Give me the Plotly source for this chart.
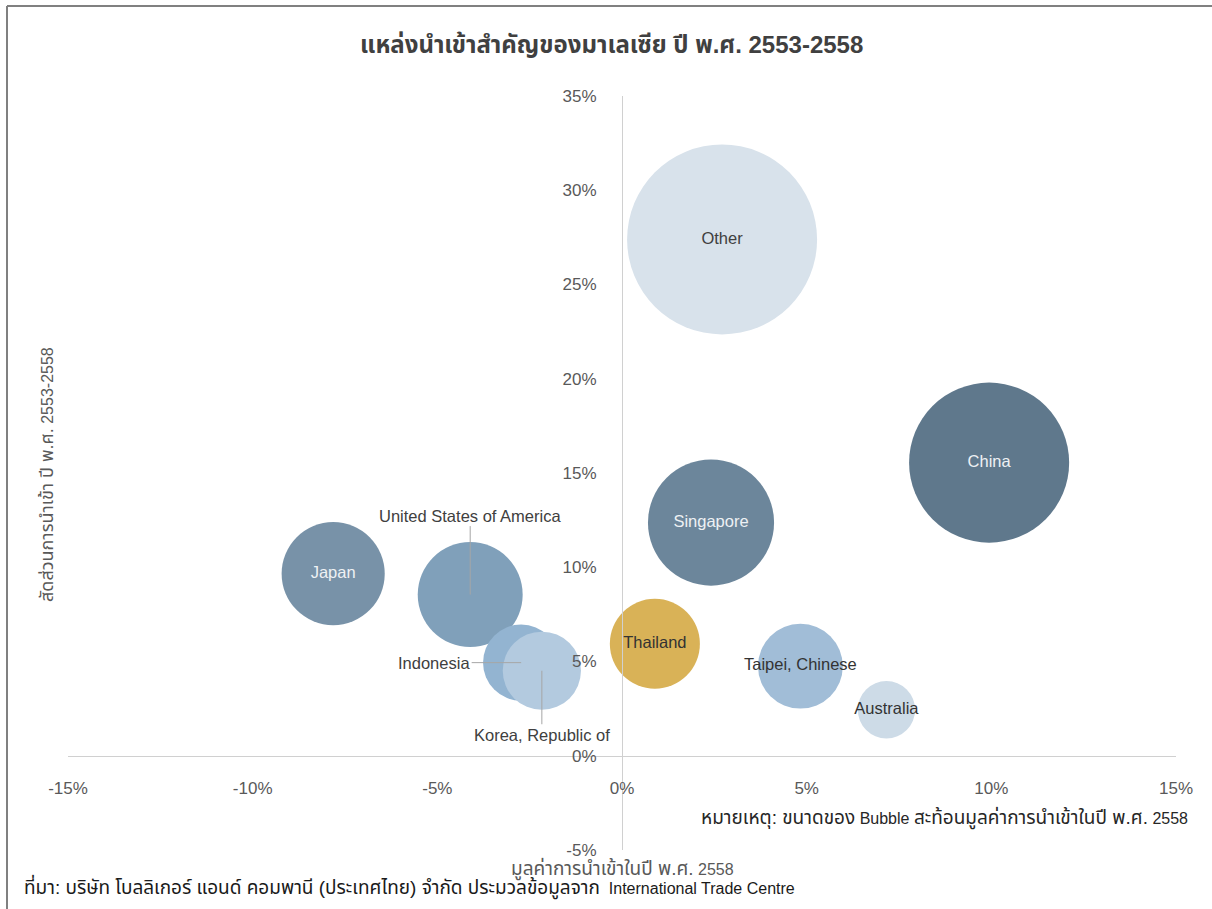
import plotly.graph_objects as go

# ---- data ----
countries = ["Other", "China", "Singapore", "Japan", "United States of America",
             "Thailand", "Taipei, Chinese", "Indonesia", "Korea, Republic of", "Australia"]
growth_2558 = [2.71, 9.94, 2.41, -7.82, -4.11, 0.89, 4.83, -2.73, -2.17, 7.16]   # x, %
share_2553_2558 = [27.39, 15.55, 12.37, 9.66, 8.55, 5.94, 4.75, 4.94, 4.51, 2.44]  # y, %
import_value = [47.2, 33.5, 20.8, 13.9, 14.4, 10.6, 9.4, 7.6, 8.0, 4.3]           # bubble size
x_ticks = [-15, -10, -5, 0, 5, 10, 15]
y_ticks = [-5, 0, 5, 10, 15, 20, 25, 30, 35]
x_tick_labels = [f"{v}%" for v in x_ticks]
y_tick_labels = [f"{v}%" for v in y_ticks]

title = "แหล่งนำเข้าสำคัญของมาเลเซีย ปี พ.ศ. 2553-2558"
y_title_parts = [("สัดส่วนการนำเข้า ปี พ.ศ.", "th"), (" 2553-2558", "en")]
x_title_parts = [("มูลค่าการนำเข้าในปี พ.ศ.", "th"), (" 2558", "en")]
note_parts = [("หมายเหตุ: ขนาดของ", "th"), (" Bubble ", "en"),
              ("สะท้อนมูลค่าการนำเข้าในปี พ.ศ.", "th"), (" 2558", "en")]
source_parts = [("ที่มา: บริษัท โบลลิเกอร์ แอนด์ คอมพานี (ประเทศไทย) จำกัด ประมวลข้อมูลจาก", "th"),
                ("  International Trade Centre", "en")]

# ---- styling ----
colors = ["#d8e2eb", "#5f788c", "#6c869b", "#7892a8", "#80a0ba",
          "#d9b257", "#a1bdd7", "#93b4d1", "#b3cadf", "#cddbe7"]
inside = {"Other": "#404040", "China": "#eef1f4", "Singapore": "#eef1f4", "Japan": "#eef1f4",
          "Thailand": "#333333", "Taipei, Chinese": "#333333", "Australia": "#333333"}
FONT = "Liberation Sans, Arial, Noto Sans Thai, Tahoma, sans-serif"
TH_SIZE, EN_SIZE = 19, 16

W, H = 1212, 909
L, R, T, B = 68, 36, 96, 59
pw, ph = W - L - R, H - T - B
max_diam = 190
sizeref = 2.0 * max(import_value) / max_diam ** 2


def px(x):
    return (x - L) / pw


def py(y):
    return (H - B - y) / ph


def mixed(parts, en=EN_SIZE):
    out = []
    for s, lang in parts:
        if lang == "en":
            out.append(f'<span style="font-size:{en}px">{s}</span>')
        else:
            out.append(s)
    return "".join(out)


fig = go.Figure()
text_labels = [c if c in inside else "" for c in countries]
text_colors = [inside.get(c, "#333333") for c in countries]
fig.add_trace(go.Scatter(
    x=growth_2558, y=share_2553_2558, mode="markers+text",
    text=text_labels, textposition="middle center",
    textfont=dict(family=FONT, size=16.5, color=text_colors),
    marker=dict(size=import_value, sizemode="area", sizeref=sizeref,
                color=colors, opacity=1, line=dict(width=0)),
    hoverinfo="text", hovertext=countries, cliponaxis=False, showlegend=False,
))

# labels with leader lines
lead = {"United States of America": (0, -79),
        "Indonesia": (-87, 0),
        "Korea, Republic of": (0, 64)}
for c, (ax, ay) in lead.items():
    i = countries.index(c)
    fig.add_annotation(x=growth_2558[i], y=share_2553_2558[i], text=c,
                       showarrow=True, arrowhead=0, arrowwidth=1, arrowcolor="#a6a6a6",
                       ax=ax, ay=ay, font=dict(family=FONT, size=16.5, color="#404040"))

fig.update_xaxes(range=[-15, 15], tickvals=x_ticks, ticktext=x_tick_labels,
                 showgrid=False, zeroline=False, showline=True, linecolor="#d0d0d0",
                 linewidth=1, anchor="free", position=5 / 40, ticks="",
                 ticklabelstandoff=17,
                 tickfont=dict(family=FONT, size=17, color="#595959"))
fig.update_yaxes(range=[-5, 35], tickvals=y_ticks, ticktext=y_tick_labels,
                 showgrid=False, zeroline=False, showline=True, linecolor="#d0d0d0",
                 linewidth=1, anchor="free", position=0.5, ticks="",
                 ticklabelstandoff=22,
                 tickfont=dict(family=FONT, size=17, color="#595959"))

fig.add_annotation(xref="paper", yref="paper", x=px(611), y=py(29), text=f"<b>{title}</b>",
                   showarrow=False, font=dict(family=FONT, size=24, color="#404040"))
fig.add_annotation(xref="paper", yref="paper", x=px(35), y=py(475), text=mixed(y_title_parts),
                   textangle=-90, showarrow=False, font=dict(family=FONT, size=18, color="#595959"))
fig.add_annotation(xref="paper", yref="paper", x=px(622), y=py(883), text=mixed(x_title_parts),
                   showarrow=False, font=dict(family=FONT, size=TH_SIZE, color="#595959"))
fig.add_annotation(xref="paper", yref="paper", x=px(1190), y=py(832), text=mixed(note_parts),
                   xanchor="right", showarrow=False, font=dict(family=FONT, size=TH_SIZE, color="#262626"))
fig.add_annotation(xref="paper", yref="paper", x=px(22), y=py(902), text=mixed(source_parts),
                   xanchor="left", showarrow=False, font=dict(family=FONT, size=TH_SIZE, color="#1a1a1a"))

# outer frame
fig.add_shape(type="line", xref="paper", yref="paper", x0=px(7), x1=px(7), y0=py(6), y1=py(909),
              line=dict(color="#808080", width=2))
fig.add_shape(type="line", xref="paper", yref="paper", x0=px(7), x1=px(1212), y0=py(6), y1=py(6),
              line=dict(color="#808080", width=2))

fig.update_layout(width=W, height=H, margin=dict(l=L, r=R, t=T, b=B),
                  plot_bgcolor="white", paper_bgcolor="white",
                  font=dict(family=FONT))
fig.write_html("out.html", config={"displayModeBar": False},
               post_script="document.body.style.margin='0';")
